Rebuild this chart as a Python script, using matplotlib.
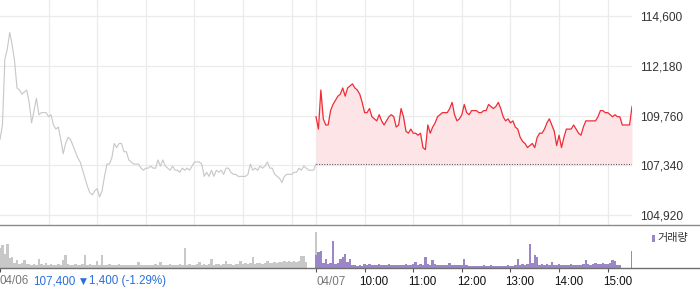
import matplotlib
matplotlib.use("Agg")
import matplotlib.pyplot as plt
import matplotlib.transforms as mtransforms
from matplotlib.lines import Line2D
from matplotlib.patches import Rectangle
import numpy as np

plt.rcParams['font.family'] = ['Liberation Sans', 'Noto Sans CJK KR', 'DejaVu Sans']

# 3분 간격 시세 (09:00 ~ 15:30)
step = 3
price_prev = [
    108600, 109300, 112500, 113000, 113800, 113200, 112400, 111100, 111000, 110800,
    110900, 111000, 110400, 109400, 110000, 110600, 109800, 109900, 109900, 109900,
    109700, 109800, 109300, 109100, 109200, 108600, 107900, 108400, 108700, 108600,
    108300, 108000, 107700, 107500, 107100, 106700, 106300, 106000, 105900, 106100,
    106200, 105800, 106100, 106800, 107400, 107400, 107700, 108400, 108200, 108400,
    108400, 108000, 108000, 107600, 107500, 107400, 107400, 107400, 107200, 107100,
    107200, 107200, 107300, 107200, 107200, 107600, 107300, 107600, 107300, 107200,
    107100, 107300, 107100, 107100, 107000, 107200, 107100, 107200, 107100, 107300,
    107500, 107500, 107500, 107400, 106800, 107000, 106800, 107100, 106800, 107100,
    107000, 107100, 106900, 107200, 107200, 107000, 106900, 106900, 106800, 106800,
    106800, 106800, 106900, 107400, 107100, 107200, 107100, 107300, 107200, 107300,
    107500, 107200, 107200, 106900, 106800, 106700, 106500, 106800, 106900, 106900,
    106900, 107000, 107000, 107200, 107100, 107300, 107200, 107100, 107100, 107100,
    107400,
]
price_today = [
    109700, 109100, 111000, 109600, 109300, 109300, 110000, 110300, 110500, 110700,
    110800, 111100, 110700, 111100, 111200, 111300, 111100, 111000, 110800, 110400,
    109900, 109900, 110100, 109700, 109600, 109500, 109800, 109500, 109300, 109500,
    109700, 109800, 109700, 109200, 109300, 110100, 109700, 109000, 108900, 109100,
    108900, 108900, 108800, 108900, 108200, 108100, 109300, 108900, 109200, 109400,
    109700, 109800, 109900, 109900, 109900, 110100, 110400, 109800, 109500, 109600,
    109800, 110300, 109900, 109800, 110000, 110000, 110000, 109900, 109900, 110000,
    110000, 110300, 110200, 110100, 110200, 110400, 110100, 109700, 109500, 109600,
    109400, 109500, 109200, 109100, 108700, 108500, 108400, 108200, 108300, 108400,
    108200, 108700, 108900, 108900, 109100, 109400, 109600, 109300, 109000, 108300,
    108800, 108200, 108700, 109100, 109100, 109100, 109300, 109100, 108900, 108800,
    109200, 109500, 109500, 109500, 109500, 109500, 109700, 110000, 110000, 109900,
    109900, 109800, 109700, 109800, 109700, 109700, 109300, 109300, 109300, 109300,
    110200,
]
# 거래량 (천주, 3분 합산)
vol_prev = [
    20, 23, 14, 24, 10, 11, 5, 8, 4, 5, 8, 4, 4, 3, 4, 3, 9, 4, 3, 5,
    3, 4, 3, 3, 4, 3, 8, 13, 4, 3, 3, 4, 3, 3, 4, 13, 3, 4, 3, 3,
    7, 3, 13, 3, 3, 4, 3, 3, 3, 4, 3, 3, 3, 3, 3, 3, 3, 6, 3, 3,
    3, 3, 3, 3, 4, 3, 6, 3, 3, 3, 4, 3, 3, 3, 4, 3, 20, 3, 4, 3,
    3, 4, 6, 3, 4, 3, 4, 9, 3, 4, 4, 3, 4, 7, 4, 4, 3, 4, 4, 7,
    4, 5, 4, 5, 11, 4, 5, 5, 4, 5, 7, 5, 5, 6, 5, 6, 6, 7, 6, 7,
    6, 7, 6, 7, 12, 12, 6, 0, 0, 0, 36,
]
vol_today = [
    13, 16, 17, 5, 9, 4, 5, 27, 4, 5, 9, 11, 14, 6, 9, 3, 3, 2, 3, 2,
    4, 3, 4, 3, 3, 3, 4, 3, 3, 3, 4, 3, 3, 3, 3, 3, 3, 4, 3, 3,
    4, 6, 3, 4, 3, 11, 4, 3, 8, 4, 3, 3, 3, 3, 3, 5, 3, 3, 3, 3,
    3, 9, 3, 2, 2, 2, 2, 2, 2, 3, 2, 2, 3, 2, 2, 2, 2, 2, 2, 3,
    2, 2, 3, 9, 3, 4, 3, 4, 24, 5, 13, 11, 3, 4, 3, 4, 3, 6, 3, 3,
    4, 3, 3, 3, 3, 4, 3, 3, 3, 3, 4, 8, 4, 3, 4, 5, 4, 4, 5, 4,
    4, 5, 8, 7, 3, 3, 0, 0, 0, 0, 17,
]
prev_close = 107400
y_ticks = [104920, 107340, 109760, 112180, 114600]
hour_labels = ["10:00", "11:00", "12:00", "13:00", "14:00", "15:00"]
day_len = 390  # minutes per session

t_prev = np.arange(len(price_prev)) * step
t_today = day_len + np.arange(len(price_today)) * step

fig = plt.figure(figsize=(7, 2.89), dpi=100)
W, H = 700, 289
ax = fig.add_axes([0, (H - 225) / H, 632 / W, 225 / H])
axv = fig.add_axes([0, (H - 268) / H, 632 / W, 42 / H])

# main price panel
ax.plot(t_prev, price_prev, color='#c6c6cb', lw=0.8)
ax.fill_between(t_today, price_today, prev_close, color='#fde5e7', lw=0)
ax.plot(t_today, price_today, color='#ef2b36', lw=0.9)
ax.hlines(prev_close, day_len, 2 * day_len, colors='#555555', lw=0.75,
          linestyles=(0, (1, 1.5)))

ax.set_xlim(0, 2 * day_len)
ax.set_ylim(104435, 115380)
grid_x = [60 * i for i in range(1, 7)] + [day_len + 60 * i for i in range(0, 7)]
ax.set_xticks(grid_x)
ax.set_xticklabels([])
ax.yaxis.tick_right()
ax.set_yticks(y_ticks)
ax.set_yticklabels([f"{v:,}" for v in y_ticks])
ax.tick_params(axis='both', length=0)
ax.tick_params(axis='y', pad=6, labelsize=8.6, labelcolor='#333333')
ax.grid(True, color='#ebebeb', lw=0.9)
ax.set_axisbelow(True)
for s in ax.spines.values():
    s.set_visible(False)

# volume panel
axv.bar(t_prev, vol_prev, width=step, color='#c8c8c8', lw=0)
axv.bar(t_today, vol_today, width=step, color='#9b86c8', lw=0)
axv.set_xlim(0, 2 * day_len)
axv.set_ylim(0, 42)
axv.set_yticks([])
for s in axv.spines.values():
    s.set_visible(False)

tick_pos = [0, day_len] + [day_len + 60 * i for i in range(1, 7)]
axv.set_xticks(tick_pos)
axv.set_xticklabels(["", "04/07"] + hour_labels)
axv.tick_params(axis='x', direction='out', length=3, width=0.8, color='#555555',
                pad=2.5, labelsize=8.4, labelcolor='#111111')
for i, lbl in enumerate(axv.get_xticklabels()):
    lbl.set_ha('left')
    dx = 0.5 if i < 2 else -5
    lbl.set_transform(lbl.get_transform() +
                      mtransforms.ScaledTranslation(dx / 100, 0, fig.dpi_scale_trans))
    if i == 1:
        lbl.set_color('#777777')

# frame lines across the whole width
for yy, c in [(225, '#8a8a8a'), (268, '#6f6f6f')]:
    fig.add_artist(Line2D([0, 1], [(H - yy) / H] * 2, transform=fig.transFigure,
                          color=c, lw=1.0))

# bottom left date / close info
fig.text(0 / W, (H - 281) / H, "04/06", color='#777777', fontsize=8.4, va='center')
fig.text(33 / W, (H - 281) / H, "107,400", color='#2b6fd6', fontsize=8.4, va='center')
fig.text(80 / W, (H - 281) / H, "\u25bc", color='#2b6fd6', fontsize=6.5, va='center',
         family=['DejaVu Sans'])
fig.text(89 / W, (H - 281) / H, "1,400 (-1.29%)", color='#2b6fd6', fontsize=8.4,
         va='center')

# legend
fig.add_artist(Rectangle((652 / W, (H - 242) / H), 3 / W, 7 / H,
                         transform=fig.transFigure, color='#9b86c8', lw=0))
fig.text(657 / W, (H - 238.5) / H, "거래량", color='#333333', fontsize=8,
         va='center')

fig.savefig("out.png", dpi=100, facecolor='white')
